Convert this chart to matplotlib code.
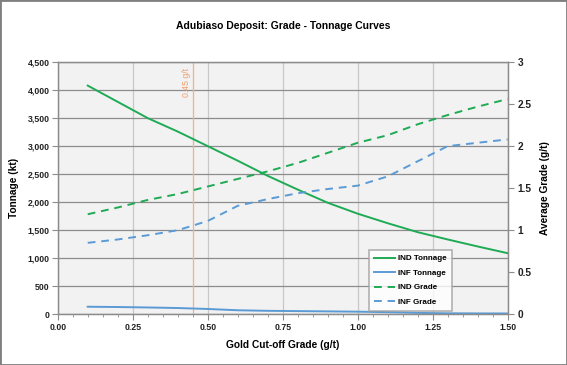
import matplotlib
matplotlib.use("Agg")
import matplotlib.pyplot as plt
from matplotlib.ticker import MultipleLocator, FuncFormatter
from matplotlib.patches import Rectangle

cutoff = [0.1, 0.2, 0.3, 0.4, 0.5, 0.6, 0.7, 0.8, 0.9, 1.0, 1.1, 1.2, 1.3, 1.4, 1.5]
ind_tonnage = [4080, 3790, 3500, 3260, 3000, 2740, 2470, 2225, 1990, 1795, 1625, 1465, 1335, 1210, 1090]
inf_tonnage = [135, 130, 122, 112, 95, 72, 62, 57, 52, 47, 38, 25, 18, 16, 15]
ind_grade = [1.19, 1.27, 1.36, 1.43, 1.52, 1.61, 1.70, 1.80, 1.92, 2.04, 2.13, 2.26, 2.37, 2.47, 2.56]
inf_grade = [0.85, 0.89, 0.94, 1.00, 1.11, 1.29, 1.37, 1.44, 1.49, 1.53, 1.64, 1.82, 2.00, 2.04, 2.08]
cutoff_marker = 0.45
marker_label = "0.45 g/t"

green = "#1faa55"
blue = "#5b9bd5"
orange = "#f4b183"
grid_h = "#8c8c8c"
grid_v = "#c8c8c8"
spine_c = "#8c8c8c"

plt.rcParams['font.family'] = ['Liberation Sans', 'DejaVu Sans']

fig = plt.figure(figsize=(5.67, 3.65), dpi=100)
fig.patches.append(Rectangle((0, 0), 1, 1, transform=fig.transFigure, fill=False,
                             edgecolor="#7f7f7f", linewidth=2))
ax = fig.add_axes([0.1018, 0.1389, 0.7936, 0.6911])
ax.set_facecolor("#f2f2f2")
ax2 = ax.twinx()

ax.set_xlim(0, 1.5)
ax.set_ylim(0, 4500)
ax2.set_ylim(0, 3)

ax.xaxis.set_major_locator(MultipleLocator(0.25))
ax.xaxis.set_minor_locator(MultipleLocator(0.05))
ax.yaxis.set_major_locator(MultipleLocator(500))
ax2.yaxis.set_major_locator(MultipleLocator(0.5))
ax.xaxis.set_major_formatter(FuncFormatter(lambda v, p: f"{v:.2f}"))
ax.yaxis.set_major_formatter(FuncFormatter(lambda v, p: f"{int(v):,}"))
ax2.yaxis.set_major_formatter(FuncFormatter(lambda v, p: f"{v:g}"))

ax.grid(axis='y', color=grid_h, linewidth=0.9)
ax.grid(axis='x', which='major', color=grid_v, linewidth=0.9)
ax.set_axisbelow(True)

for a in (ax, ax2):
    for s in a.spines.values():
        s.set_color(spine_c)
        s.set_linewidth(0.9)
    a.tick_params(which='both', color=spine_c, direction='out', labelsize=6.3, pad=2)
ax.tick_params(which='major', length=4)
ax.tick_params(which='minor', length=2.5)
ax2.tick_params(length=4, labelsize=7.3, pad=3)
for lab in ax.get_xticklabels() + ax.get_yticklabels() + ax2.get_yticklabels():
    lab.set_fontweight('bold')
    lab.set_color("#222222")

ax.axvline(cutoff_marker, color=orange, linewidth=0.9, zorder=1)
ax.text(cutoff_marker - 0.02, 4400, marker_label, rotation=90, ha='center', va='top',
        color="#f0a070", fontsize=6.3)

l1, = ax.plot(cutoff, ind_tonnage, color=green, linewidth=1.4, label="IND Tonnage")
l2, = ax.plot(cutoff, inf_tonnage, color=blue, linewidth=1.4, label="INF Tonnage")
l3, = ax2.plot(cutoff, ind_grade, color=green, linewidth=1.4, linestyle=(0, (4, 3)), label="IND Grade")
l4, = ax2.plot(cutoff, inf_grade, color=blue, linewidth=1.4, linestyle=(0, (4, 3)), label="INF Grade")

ax.set_xlabel("Gold Cut-off Grade (g/t)", fontsize=7.3, fontweight='bold', labelpad=6)
ax.set_ylabel("Tonnage (kt)", fontsize=7.3, fontweight='bold', labelpad=6)
ax2.set_ylabel("Average Grade (g/t)", fontsize=7.3, fontweight='bold', labelpad=6)

fig.text(0.5, 0.93, "Adubiaso Deposit: Grade - Tonnage Curves", ha='center', va='center',
         fontsize=7.5, fontweight='bold')

leg = ax2.legend(handles=[l1, l2, l3, l4], loc='upper left', bbox_to_anchor=(0.692, 0.255),
                 prop={'weight': 'bold', 'size': 5.8}, frameon=True,
                 fancybox=False, edgecolor="#a0a0a0", handlelength=2.6, handletextpad=0.4,
                 borderpad=0.6, labelspacing=0.85, borderaxespad=0)
leg.get_frame().set_linewidth(1.2)

fig.savefig("out.png", dpi=100)
